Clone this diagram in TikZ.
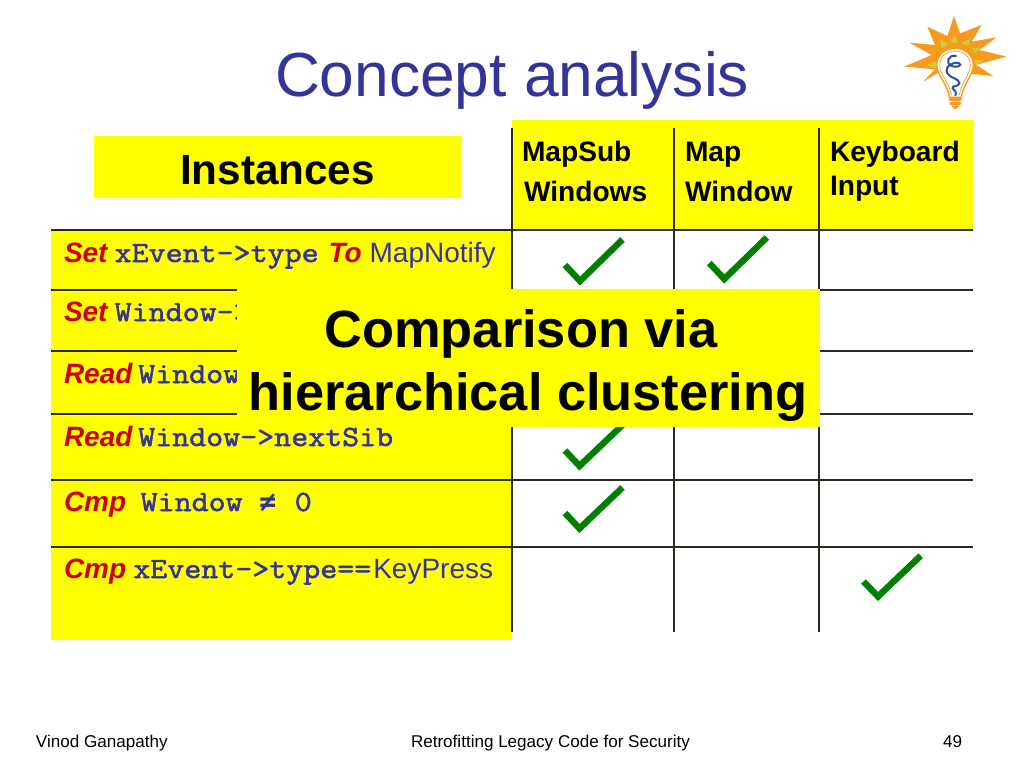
\documentclass[tikz,border=0pt]{standalone}
\usepackage{fontspec}
\setmainfont{Liberation Sans}
\newfontfamily\symfont{DejaVu Sans Mono}
\newfontfamily\codefont[FakeBold=2,FakeStretch=1.125]{Latin Modern Mono}
\definecolor{ttlblue}{HTML}{333399}
\definecolor{redt}{HTML}{CC0000}
\definecolor{yel}{HTML}{FFFF00}
\definecolor{chk}{HTML}{007F00}
\definecolor{rule}{HTML}{2A2A20}
\definecolor{sun}{HTML}{F79A1E}
\definecolor{lime}{HTML}{C4CF3A}
\tikzset{
  txt/.style={anchor=base west,inner sep=0pt,outer sep=0pt},
  ttl/.style={txt,text=ttlblue,font=\fontsize{46.7}{50}\selectfont},
  hdr/.style={txt,text=black,font=\fontsize{21.1}{24}\selectfont\bfseries},
  rowt/.style={txt,text=ttlblue,font=\fontsize{21}{24}\selectfont},
  foot/.style={txt,text=black,font=\fontsize{12.8}{14}\selectfont},
  big/.style={anchor=base,inner sep=0pt,text=black,font=\fontsize{39.3}{42}\selectfont\bfseries},
  tblline/.style={draw=rule,line width=0.9pt},
  chkm/.style={draw=chk,line width=4.8pt,line join=miter},
}
\newcommand{\kw}[1]{{\color{redt}\bfseries\itshape #1}}
\newcommand{\cod}[1]{{\codefont\fontsize{22}{24}\selectfont #1}}
\begin{document}
\begin{tikzpicture}[x=0.75pt,y=-0.75pt]
\useasboundingbox (0,0) rectangle (1024,768);
\fill[white] (0,0) rectangle (1024,768);
% yellow areas
\fill[yel] (94,136) rectangle (461,198);
\fill[yel] (512,120) rectangle (973,230);
\fill[yel] (51,230) rectangle (512,640);
% table rules
\foreach \yy in {230,290,351,414,480,547}
  \draw[tblline] (51,\yy) -- (973,\yy);
\foreach \xx in {512,674,819}
  \draw[tblline] (\xx,128) -- (\xx,632);
% title
\node[ttl] (title) at (275,96) {Concept analysis};
\node[txt,font=\fontsize{31.7}{34}\selectfont\bfseries] (inst) at (180,184) {Instances};
% headers
\node[hdr] (h1a) at (522,161) {MapSub};
\node[hdr] (h1b) at (524,201) {Windows};
\node[hdr] (h2a) at (685,161) {Map};
\node[hdr] (h2b) at (685,201) {Window};
\node[hdr] (h3a) at (830,161) {Keyboard};
\node[hdr] (h3b) at (830,195) {Input};
% rows
\node[rowt] (r1) at (64,262) {\kw{Set}\hspace{-0.5pt} \cod{xEvent->type}\hspace{1.7pt} \kw{To} MapNotify};
\node[rowt] (r2) at (64,321) {\kw{Set}\hspace{-0.5pt} \cod{Window->}};
\node[rowt] (r3) at (64,383) {\kw{Read}\hspace{-1.5pt} \cod{Window->}};
\node[rowt] (r4) at (64,446) {\kw{Read}\hspace{-1.5pt} \cod{Window->nextSib}};
\node[rowt] (r5) at (64,511) {\kw{Cmp} \cod{\hspace{5pt}Window}\hspace{12.5pt}{\symfont\bfseries\fontsize{21}{24}\selectfont≠}\hspace{14pt}\cod{0}};
\node[rowt] (r6) at (64,578) {\kw{Cmp}\hspace{-0.5pt} \cod{xEvent->type==}\hspace{1.5pt}KeyPress};
% check marks
\draw[chkm] (565,265) -- (580,281) -- (622.5,239.5);
\draw[chkm] (709.3,263) -- (724.3,279) -- (766.8,237.5);
\draw[chkm] (565,450.5) -- (579.5,466) -- (622.5,425);
\draw[chkm] (565,513) -- (579.5,528.5) -- (622.5,487.5);
\draw[chkm] (863.5,581.5) -- (878,596.5) -- (920.7,555.7);
% overlay box
\fill[yel] (237,289) rectangle (820,427);
\node[big] (c1) at (521,347) {Comparison via};
\node[big] (c2) at (528,410) {hierarchical clustering};
% footer
\node[foot] (f1) at (36,747) {Vinod Ganapathy};
\node[foot] (f2) at (411,747) {Retrofitting Legacy Code for Security};
\node[foot] (f3) at (943,747) {49};
% light bulb (zoomed coordinates)
\begin{scope}[shift={(890,0)},x=0.25pt,y=-0.25pt]
\fill[sun] (192,48) -- (210,100) -- (275,75) -- (245,125) -- (320,112) -- (268,150) -- (350,170) -- (258,195) -- (310,228) -- (245,222) -- (150,215) -- (100,245) -- (135,208) -- (42,200) -- (125,165) -- (58,128) -- (135,135) -- (112,80) -- (172,108) -- cycle;
\fill[lime] (150,118) -- (175,132) -- (155,145) -- cycle;
\fill[lime] (193,105) -- (205,128) -- (183,128) -- cycle;
\fill[lime] (242,115) -- (235,138) -- (215,130) -- cycle;
\fill[lime] (275,142) -- (255,160) -- (245,145) -- cycle;
\fill[lime] (282,185) -- (255,195) -- (255,178) -- cycle;
\fill[lime] (108,195) -- (138,185) -- (138,205) -- cycle;
\draw[sun,line width=1pt,fill=white] (178,292) .. controls (175,255) and (140,225) .. (140,195) .. controls (140,165) and (165,145) .. (195,145) .. controls (225,145) and (250,165) .. (250,195) .. controls (250,225) and (218,255) .. (214,292) -- cycle;
\draw[sun,line width=0.5pt] (184,286) .. controls (180,250) and (149,225) .. (149,195) .. controls (149,170) and (170,153) .. (195,153) .. controls (220,153) and (241,170) .. (241,195) .. controls (241,225) and (212,250) .. (208,286);
\fill[sun,rounded corners=1.5pt] (176,294) rectangle (216,303);
\fill[sun,rounded corners=1.5pt] (178,306) rectangle (214,315);
\fill[sun] (184,317) -- (208,317) -- (200,326) -- (192,326) -- cycle;
\draw[ttlblue!85!cyan,line width=1.5pt,line cap=round] (198,168) .. controls (175,162) and (165,190) .. (185,198) .. controls (200,205) and (218,195) .. (208,190) .. controls (190,182) and (162,200) .. (172,220) .. controls (178,235) and (210,235) .. (208,250) .. controls (205,262) and (185,255) .. (188,265) .. controls (192,272) and (202,275) .. (196,286);
\end{scope}
\end{tikzpicture}
\end{document}
